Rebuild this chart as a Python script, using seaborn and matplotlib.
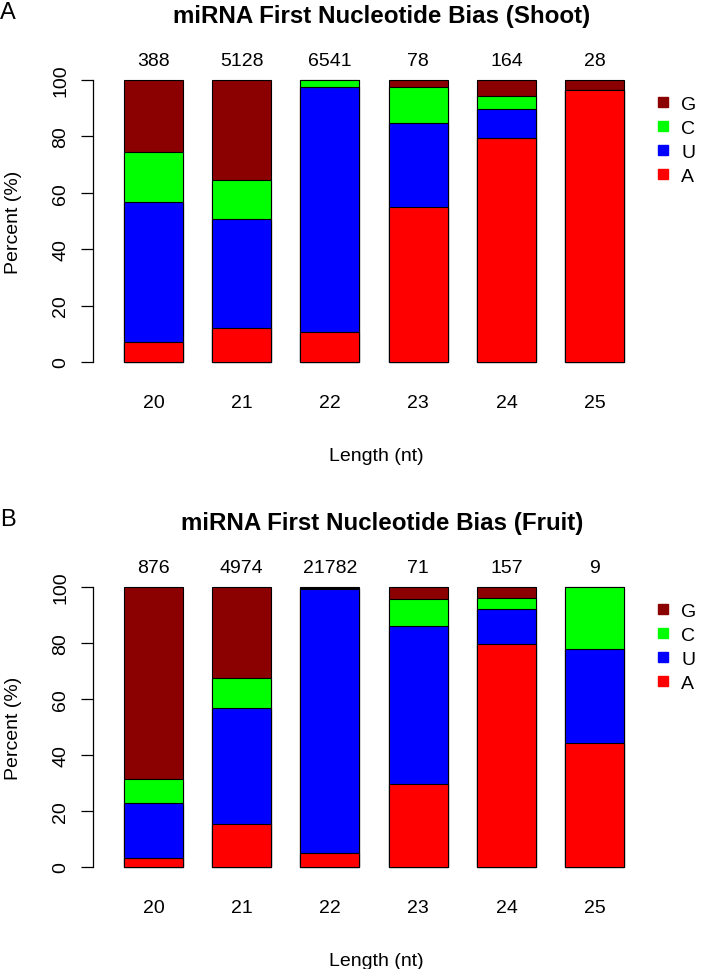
import numpy as np
import pandas as pd
import matplotlib
matplotlib.use("Agg")
import matplotlib.pyplot as plt
import seaborn as sns
from matplotlib.lines import Line2D

# ---- data ----
lengths = ["20", "21", "22", "23", "24", "25"]
nucleotides = ["G", "C", "U", "A"]
nuc_colors = {"G": "#8B0000", "C": "#00FF00", "U": "#0000FF", "A": "#FF0000"}

shoot_counts = [388, 5128, 6541, 78, 164, 28]
shoot_A = [7.2, 12.2, 10.5, 55.1, 79.6, 96.4]
shoot_U = [49.7, 38.6, 86.9, 29.5, 10.0, 0.0]
shoot_C = [17.4, 13.8, 2.5, 12.8, 4.8, 0.0]
shoot_G = [25.7, 35.4, 0.1, 2.6, 5.6, 3.6]

fruit_counts = [876, 4974, 21782, 71, 157, 9]
fruit_A = [3.3, 15.5, 4.9, 29.6, 79.6, 44.4]
fruit_U = [19.7, 41.4, 94.5, 56.3, 12.7, 33.3]
fruit_C = [8.5, 10.5, 0.3, 9.9, 3.8, 22.3]
fruit_G = [68.5, 32.6, 0.3, 4.2, 3.9, 0.0]

titles = ["miRNA First Nucleotide Bias (Shoot)", "miRNA First Nucleotide Bias (Fruit)"]
panel_letters = ["A", "B"]

sns.set_style("white")
plt.rcParams["font.family"] = ["Liberation Sans", "DejaVu Sans"]
for k in ["text.color", "axes.labelcolor", "xtick.color", "ytick.color"]:
    plt.rcParams[k] = "black"

W, H = 707, 970
fig = plt.figure(figsize=(W / 100, H / 100), dpi=100)

FS = 14


def fx(px):
    return px / W


def fy(py):
    return 1 - py / H


def draw_panel(y0, y100, counts, A, U, C, G, title, letter):
    left, right = 93, 660
    ax = fig.add_axes([fx(left), fy(y0), (right - left) / W, (y0 - y100) / H])
    segs = {"A": np.array(A), "U": np.array(U), "C": np.array(C), "G": np.array(G)}
    cum = {}
    running = np.zeros(len(lengths))
    for n in ["A", "U", "C", "G"]:
        running = running + segs[n]
        cum[n] = running.copy()
    for n in ["G", "C", "U", "A"]:
        df = pd.DataFrame({"length": lengths, "cum": cum[n]})
        sns.barplot(data=df, x="length", y="cum", order=lengths, color=nuc_colors[n],
                    saturation=1, width=0.668, edgecolor="black", linewidth=0.8,
                    errorbar=None, ax=ax)
    for p in ax.patches:
        p.set_clip_on(False)
    ax.set_ylim(0, 100)
    ax.set_xlim(-0.685, 5.74)
    for s in ["top", "right", "bottom"]:
        ax.spines[s].set_visible(False)
    ax.spines["left"].set_color("black")
    ax.spines["left"].set_linewidth(0.9)
    ax.set_yticks([0, 20, 40, 60, 80, 100])
    ax.set_yticklabels(["0", "20", "40", "60", "80", "100"], rotation=90, va="center")
    ax.tick_params(axis="y", left=True, length=9, width=0.9, color="black",
                   labelsize=FS, pad=8)
    ax.tick_params(axis="x", length=0, labelsize=FS, pad=23)
    ax.set_xlabel("Length (nt)", fontsize=FS, labelpad=26)
    ax.set_ylabel("Percent (%)", fontsize=FS, labelpad=22)
    for i, c in enumerate(counts):
        ax.text(i, 106.8, str(c), ha="center", va="center", fontsize=FS, clip_on=False)
    handles = [Line2D([], [], marker="s", color=nuc_colors[n], linestyle="",
                      markersize=7.5) for n in nucleotides]
    ax.legend(handles, nucleotides, loc="upper left",
              bbox_to_anchor=(fx(653), fy(y100 + 15)), bbox_transform=fig.transFigure,
              frameon=False, fontsize=FS, handlelength=1.0, handletextpad=0.45,
              labelspacing=0.34, borderpad=0, borderaxespad=0)
    fig.text(fx(382), fy(y100 - 64), title, fontsize=17.4, fontweight="bold",
             ha="center", va="center")
    fig.text(fx(8), fy(y100 - 68), letter, fontsize=17, ha="center", va="center")
    return ax


draw_panel(363, 81, shoot_counts, shoot_A, shoot_U, shoot_C, shoot_G, titles[0], panel_letters[0])
draw_panel(868, 588, fruit_counts, fruit_A, fruit_U, fruit_C, fruit_G, titles[1], panel_letters[1])

fig.savefig("out.png", dpi=100)
